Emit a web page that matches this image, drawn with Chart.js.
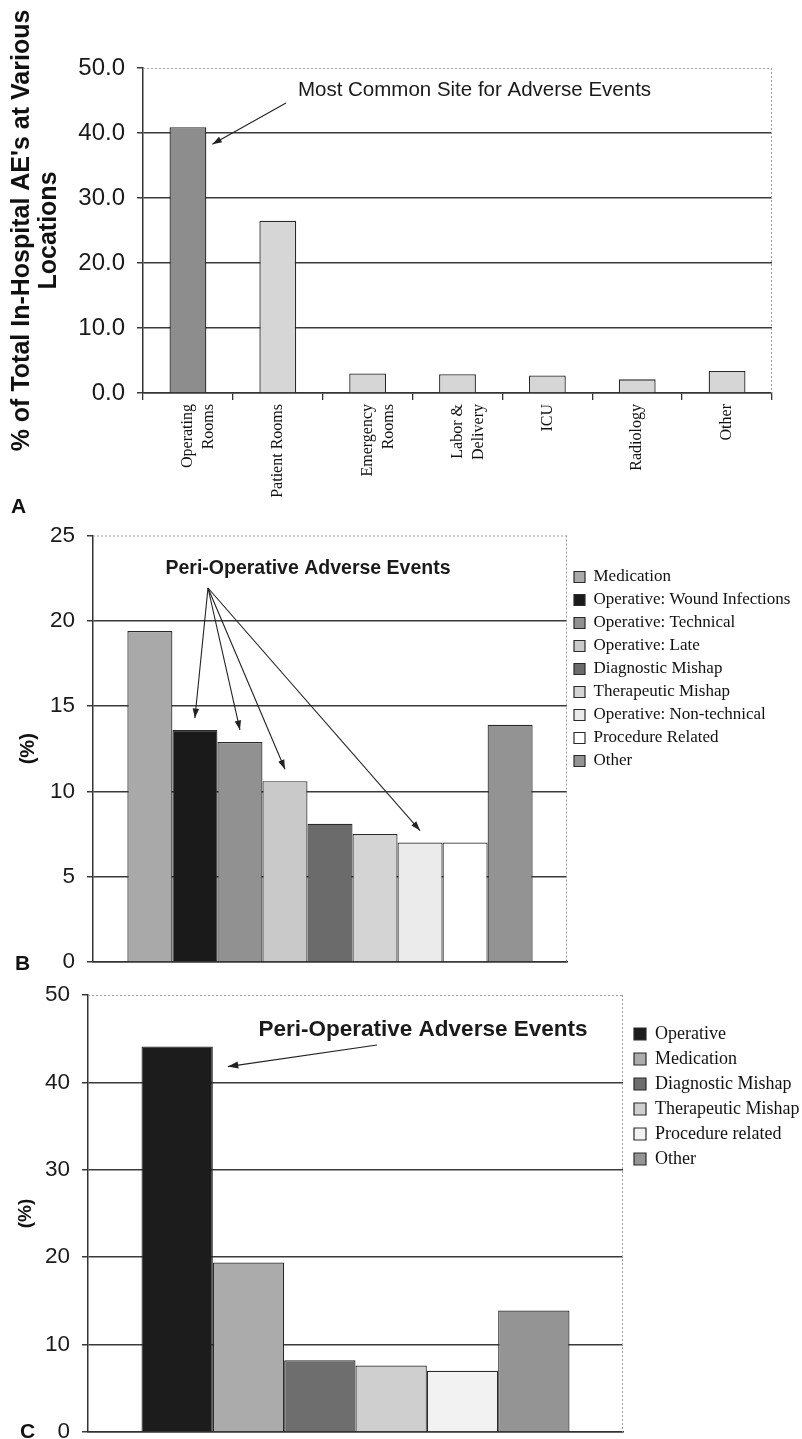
<!DOCTYPE html>
<html><head><meta charset="utf-8">
<script src="https://cdn.jsdelivr.net/npm/chart.js@4.4.1/dist/chart.umd.min.js"></script>
<style>
html,body{margin:0;padding:0;background:#fff;}
body{width:802px;height:1439px;position:relative;overflow:hidden;}
canvas{position:absolute;left:0;}
.plabel{position:absolute;font:bold 21px 'Liberation Sans',Arial,sans-serif;color:#111;line-height:1;}
</style></head><body>
<canvas id="cA" width="802" height="515" style="top:0"></canvas>
<canvas id="cB" width="802" height="460" style="top:515px"></canvas>
<canvas id="cC" width="802" height="464" style="top:975px"></canvas>
<div class="plabel" style="left:11px;top:495px">A</div>
<div class="plabel" style="left:15px;top:952px">B</div>
<div class="plabel" style="left:20px;top:1420px">C</div>
<script>
// ---------- data ----------
const locationLabels = [['Operating','Rooms'], 'Patient Rooms', ['Emergency','Rooms'], ['Labor &','Delivery'], 'ICU', 'Radiology', 'Other'];
const locationValues = [40.9, 26.5, 3.0, 2.9, 2.7, 2.1, 3.4];
const panelATitle = ["% of Total In-Hospital AE's at Various", 'Locations'];
const panelANote = 'Most Common Site for Adverse Events';

const panelBCategories = ['Medication','Operative: Wound Infections','Operative: Technical','Operative: Late','Diagnostic Mishap','Therapeutic Mishap','Operative: Non-technical','Procedure Related','Other'];
const panelBValues = [19.4, 13.6, 12.9, 10.6, 8.1, 7.5, 7.0, 7.0, 13.9];
const panelBPeriOp = [1, 2, 3, 6];

const panelCCategories = ['Operative','Medication','Diagnostic Mishap','Therapeutic Mishap','Procedure related','Other'];
const panelCValues = [44.1, 19.4, 8.2, 7.6, 7.0, 13.9];
const panelCPeriOp = [0];

const periOpNote = 'Peri-Operative Adverse Events';
const yTitleBC = '(%)';

// ---------- styles ----------
const SANS = "'Liberation Sans', Arial, Helvetica, sans-serif";
const SERIF = "'Liberation Serif', 'Times New Roman', Times, serif";
const colorsA = ['#8d8d8d','#d6d6d6','#d6d6d6','#d6d6d6','#d6d6d6','#d6d6d6','#d6d6d6'];
const colorsB = ['#a9a9a9','#1a1a1a','#919191','#c9c9c9','#6b6b6b','#d4d4d4','#ebebeb','#ffffff','#939393'];
const colorsC = ['#1c1c1c','#ababab','#6e6e6e','#cfcfcf','#f2f2f2','#949494'];
const GRID = '#3a3a3a';
Chart.defaults.font.family = SANS;

function arrow(ctx, x1, y1, x2, y2, head) {
  ctx.beginPath(); ctx.moveTo(x1, y1); ctx.lineTo(x2, y2); ctx.stroke();
  const a = Math.atan2(y2 - y1, x2 - x1);
  ctx.beginPath();
  ctx.moveTo(x2, y2);
  ctx.lineTo(x2 - head * Math.cos(a - 0.33), y2 - head * Math.sin(a - 0.33));
  ctx.lineTo(x2 - head * Math.cos(a + 0.33), y2 - head * Math.sin(a + 0.33));
  ctx.closePath(); ctx.fill();
}

const frame = {
  id: 'frame',
  beforeDatasetsDraw(chart) {
    const {ctx, chartArea: a} = chart;
    ctx.save();
    ctx.strokeStyle = '#9c9c9c'; ctx.lineWidth = 1; ctx.setLineDash([2, 2]);
    ctx.beginPath();
    ctx.moveTo(a.left, a.top + 0.5); ctx.lineTo(a.right, a.top + 0.5);
    ctx.moveTo(a.right - 0.5, a.top); ctx.lineTo(a.right - 0.5, a.bottom);
    ctx.stroke();
    ctx.restore();
  }
};

// fixes the width of a right-hand legend (so the plot area ends where the reference's does)
// and nudges the legend block to the right by dx
function legendFit(w, dx) {
  return {
    id: 'legendFit',
    afterInit(chart) {
      const lg = chart.legend;
      const orig = lg.fit;
      lg.fit = function() { orig.call(this); this.width = w; };
    },
    afterLayout(chart) {
      const lg = chart.legend;
      lg.left += dx; lg.right += dx;
    }
  };
}

function yAxis(max, step, size, width, fmt, title) {
  return {
    min: 0, max: max,
    ticks: {stepSize: step, padding: 12, color: '#1a1a1a', font: {family: SANS, size: size}, callback: fmt},
    grid: {
      color: c => (c.tick && c.tick.value === max) ? 'rgba(0,0,0,0)' : GRID,
      tickColor: GRID, lineWidth: 1.5, tickLength: 6, drawTicks: true
    },
    border: {display: true, color: '#333', width: 1.5},
    title: title,
    afterFit: s => { s.width = width; s.paddingTop = 0; s.paddingBottom = 0; }
  };
}

// ---------- Panel A ----------
const annotA = {
  id: 'annotA',
  afterDraw(chart) {
    const {ctx, chartArea: a} = chart;
    const bar = chart.getDatasetMeta(0).data[0].getProps(['x','y','width'], true);
    ctx.save();
    ctx.font = `20.5px ${SANS}`; ctx.fillStyle = '#1a1a1a';
    ctx.textAlign = 'center'; ctx.textBaseline = 'middle';
    ctx.fillText(panelANote, a.left + 331.5, a.top + 22);
    ctx.strokeStyle = '#222'; ctx.fillStyle = '#222'; ctx.lineWidth = 1.1;
    arrow(ctx, a.left + 143, a.top + 35, bar.x + bar.width / 2 + 6, bar.y + 17, 10);
    ctx.restore();
  }
};

new Chart(document.getElementById('cA'), {
  type: 'bar',
  data: {
    labels: locationLabels,
    datasets: [{data: locationValues, backgroundColor: colorsA, borderColor: '#2a2a2a', borderWidth: 1.3,
      categoryPercentage: 1.0, barPercentage: 0.41}]
  },
  options: {
    responsive: false, animation: false, devicePixelRatio: 1,
    layout: {padding: {top: 68, right: 30, left: 0, bottom: 0}},
    plugins: {legend: {display: false}, tooltip: {enabled: false}},
    scales: {
      x: {
        grid: {display: true, drawOnChartArea: false, drawTicks: true, tickLength: 7, color: '#333', tickColor: '#333', lineWidth: 1.3, offset: true},
        border: {display: true, color: '#333', width: 1.5},
        ticks: {minRotation: 90, maxRotation: 90, autoSkip: false, padding: 4, color: '#111', font: {family: SERIF, size: 16, lineHeight: 1.3}},
        afterFit: s => { s.height = 122; s.paddingLeft = 0; s.paddingRight = 0; }
      },
      y: yAxis(50, 10, 24, 143, v => Number(v).toFixed(1),
        {display: true, text: panelATitle, color: '#111', font: {family: SANS, size: 25, weight: 'bold', lineHeight: 1.1}, padding: {top: 8, bottom: 0}})
    }
  },
  plugins: [frame, annotA]
});

// ---------- Panel B ----------
const annotB = {
  id: 'annotB',
  afterDraw(chart) {
    const {ctx, chartArea: a} = chart;
    ctx.save();
    ctx.font = `bold 19.5px ${SANS}`; ctx.fillStyle = '#1a1a1a';
    ctx.textAlign = 'center'; ctx.textBaseline = 'middle';
    ctx.fillText(periOpNote, a.left + 215, a.top + 33.5);
    ctx.strokeStyle = '#222'; ctx.fillStyle = '#222'; ctx.lineWidth = 1.1;
    const ox = a.left + 115, oy = a.top + 52.5;
    panelBPeriOp.forEach(i => {
      const bar = chart.getDatasetMeta(i).data[0].getProps(['x','y'], true);
      arrow(ctx, ox, oy, bar.x, bar.y - 12, 10);
    });
    ctx.restore();
  }
};

new Chart(document.getElementById('cB'), {
  type: 'bar',
  data: {
    labels: [''],
    datasets: panelBCategories.map((name, i) => ({
      label: name, data: [panelBValues[i]], backgroundColor: colorsB[i], borderColor: '#2a2a2a', borderWidth: 1.2,
      categoryPercentage: 0.855, barPercentage: 1.0
    }))
  },
  options: {
    responsive: false, animation: false, devicePixelRatio: 1,
    layout: {padding: {top: 20.5, right: 0, left: 0, bottom: 0}},
    plugins: {
      tooltip: {enabled: false},
      legend: {
        position: 'right', align: 'start',
        title: {display: true, text: ' ', font: {size: 10}, padding: {top: 0, bottom: 15}},
        labels: {boxWidth: 11, boxHeight: 11, padding: 6, color: '#111', font: {family: SERIF, size: 17}}
      }
    },
    scales: {
      x: {
        grid: {display: false}, border: {display: true, color: '#333', width: 1.5}, ticks: {display: false},
        afterFit: s => { s.height = 13; s.paddingLeft = 0; s.paddingRight = 0; }
      },
      y: yAxis(25, 5, 22.5, 93, v => v,
        {display: true, text: yTitleBC, color: '#111', font: {family: SANS, size: 20, weight: 'bold', lineHeight: 1.2}, padding: {top: 16, bottom: 0}})
    }
  },
  plugins: [frame, annotB, legendFit(235, 1)]
});

// ---------- Panel C ----------
const annotC = {
  id: 'annotC',
  afterDraw(chart) {
    const {ctx, chartArea: a} = chart;
    ctx.save();
    ctx.font = `bold 22.5px ${SANS}`; ctx.fillStyle = '#1a1a1a';
    ctx.textAlign = 'center'; ctx.textBaseline = 'middle';
    ctx.fillText(periOpNote, a.left + 335, a.top + 35);
    ctx.strokeStyle = '#222'; ctx.fillStyle = '#222'; ctx.lineWidth = 1.2;
    panelCPeriOp.forEach(i => {
      const bar = chart.getDatasetMeta(i).data[0].getProps(['x','y','width'], true);
      arrow(ctx, a.left + 289, a.top + 50, bar.x + bar.width / 2 + 15, bar.y + 20, 11);
    });
    ctx.restore();
  }
};

new Chart(document.getElementById('cC'), {
  type: 'bar',
  data: {
    labels: [''],
    datasets: panelCCategories.map((name, i) => ({
      label: name, data: [panelCValues[i]], backgroundColor: colorsC[i], borderColor: '#2a2a2a', borderWidth: 1.2,
      categoryPercentage: 0.80, barPercentage: 1.0
    }))
  },
  options: {
    responsive: false, animation: false, devicePixelRatio: 1,
    layout: {padding: {top: 20, right: 0, left: 0, bottom: 0}},
    plugins: {
      tooltip: {enabled: false},
      legend: {
        position: 'right', align: 'start',
        title: {display: true, text: ' ', font: {size: 10}, padding: {top: 0, bottom: 11}},
        labels: {boxWidth: 12, boxHeight: 12, padding: 7, color: '#111', font: {family: SERIF, size: 18}}
      }
    },
    scales: {
      x: {
        grid: {display: false}, border: {display: true, color: '#333', width: 1.5}, ticks: {display: false},
        afterFit: s => { s.height = 7; s.paddingLeft = 0; s.paddingRight = 0; }
      },
      y: yAxis(50, 10, 22.5, 88, v => v,
        {display: true, text: yTitleBC, color: '#111', font: {family: SANS, size: 19, weight: 'bold', lineHeight: 1.2}, padding: {top: 14.6, bottom: 0}})
    }
  },
  plugins: [frame, annotC, legendFit(179, 4)]
});
</script>
</body></html>
